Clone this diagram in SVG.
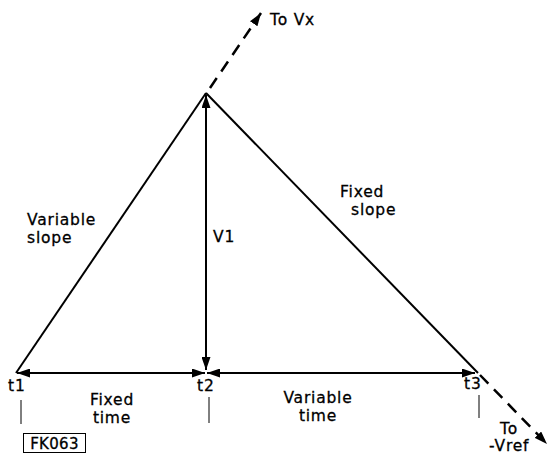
<svg xmlns="http://www.w3.org/2000/svg" width="549" height="455" viewBox="0 0 549 455">
<defs>
<marker id="ah" viewBox="0 0 13 9" refX="13" refY="4.5" markerWidth="13" markerHeight="9" markerUnits="userSpaceOnUse" orient="auto-start-reverse">
<path d="M0,0 L13,4.5 L0,9 Z" fill="#000"/>
</marker>
</defs>
<style>
text{font-family:"DejaVu Sans","Liberation Sans",sans-serif;font-size:15.5px;letter-spacing:0.8px;fill:#000;stroke:#000;stroke-width:0.3}
.ln{stroke:#000;stroke-width:2;fill:none}
.dash{stroke:#000;stroke-width:2.5;fill:none;stroke-dasharray:12,8}
.tk{stroke:#000;stroke-width:1;fill:none}
</style>
<rect width="549" height="455" fill="#fff"/>
<g id="connectors">
<line class="ln" x1="16" y1="373" x2="206" y2="93"/>
<line class="ln" x1="206" y1="93" x2="478" y2="373"/>
<line class="dash" x1="210" y1="88" x2="261" y2="13" marker-end="url(#ah)"/>
<line class="dash" x1="480" y1="375" x2="547" y2="444" marker-end="url(#ah)"/>
<line class="ln" x1="206" y1="95" x2="206" y2="370" marker-start="url(#ah)" marker-end="url(#ah)"/>
<line class="ln" x1="17" y1="373" x2="205" y2="373" marker-start="url(#ah)" marker-end="url(#ah)"/>
<line class="ln" x1="207" y1="373" x2="475" y2="373" marker-start="url(#ah)" marker-end="url(#ah)"/>
<line class="tk" x1="21" y1="400" x2="21" y2="424"/>
<line class="tk" x1="209" y1="397" x2="209" y2="423"/>
<line class="tk" x1="479" y1="395" x2="479" y2="418"/>
</g>
<g id="labels">
<text x="270" y="25">To Vx</text>
<text x="27" y="225">Variable</text>
<text x="27" y="243">slope</text>
<text x="213" y="242">V1</text>
<text x="340" y="197">Fixed</text>
<text x="351" y="215">slope</text>
<text x="8" y="391">t1</text>
<text x="197" y="391">t2</text>
<text x="464" y="389">t3</text>
<text x="112" y="405" text-anchor="middle">Fixed</text>
<text x="112" y="423" text-anchor="middle">time</text>
<text x="318" y="403" text-anchor="middle">Variable</text>
<text x="318" y="421" text-anchor="middle">time</text>
<text x="500" y="434">To</text>
<text x="489" y="451">-Vref</text>
</g>
<g id="fk063">
<rect x="23.5" y="433.5" width="62" height="19" fill="none" stroke="#000" stroke-width="1"/>
<text x="54.5" y="449" text-anchor="middle" style="font-size:15px;letter-spacing:0.3px">FK063</text>
</g>
</svg>
